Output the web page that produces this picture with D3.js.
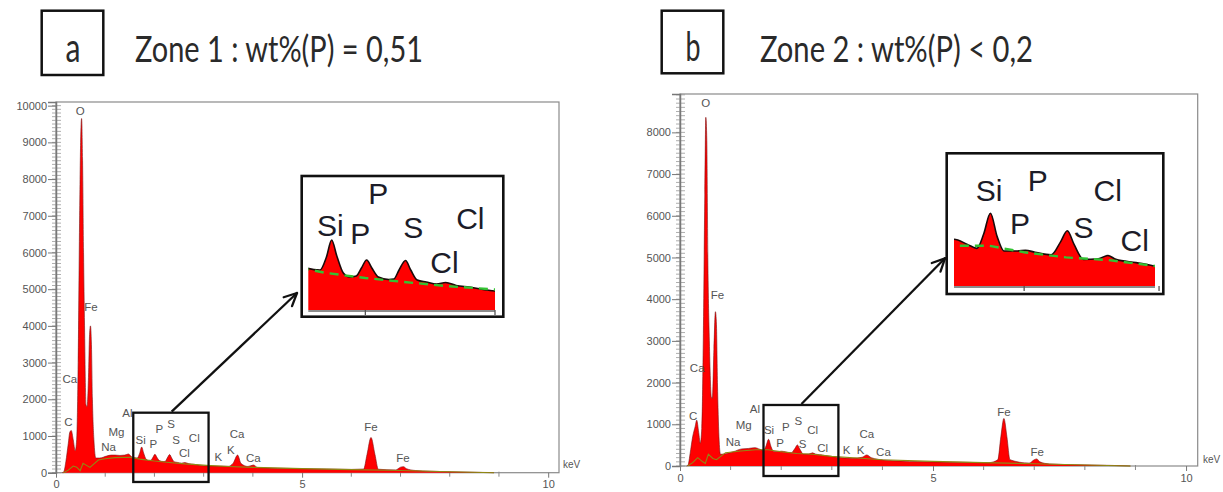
<!DOCTYPE html>
<html><head><meta charset="utf-8">
<script src="https://cdn.jsdelivr.net/npm/d3@7"></script>
<style>body{margin:0;background:#fff} svg{display:block}</style>
</head><body>
<svg id="c" width="1223" height="492"></svg>
<script>
// ---------------- DATA ----------------
// Zone 1 spectrum (keV, counts)
const keVA    = [0.13,0.16,0.20,0.25,0.28,0.31,0.35,0.39,0.42,0.45,0.48,0.50,0.52,0.54,0.56,0.58,0.61,0.63,0.66,0.68,0.70,0.72,0.74,0.77,0.81,0.89,1.03,1.12,1.20,1.30,1.40,1.47,1.55,1.65,1.70,1.74,1.78,1.83,1.88,1.93,1.97,2.01,2.05,2.10,2.18,2.22,2.26,2.31,2.35,2.40,2.47,2.55,2.62,2.70,2.80,3.00,3.30,3.50,3.60,3.69,3.76,3.90,4.01,4.10,4.50,5.00,5.50,6.00,6.25,6.32,6.40,6.48,6.55,6.90,7.00,7.06,7.12,7.30,7.60,8.00,8.50,8.80,8.90];
const countsA = [0,30,300,800,1100,1150,900,600,900,3000,7000,9000,9650,8500,6000,4000,1850,1800,2600,3700,4000,3500,2000,900,400,400,455,480,480,470,480,510,420,400,530,700,540,370,330,340,420,500,420,330,305,310,400,495,400,300,280,260,275,245,230,190,180,175,260,480,250,170,210,140,120,110,100,90,100,500,960,500,95,75,150,165,110,60,40,25,12,5,0];
const bgKeVA    = [0.15,0.25,0.35,0.42,0.49,0.55,0.62,0.69,0.86,1.00,1.20,1.50,1.70,2.00,2.30,2.62,3.06,3.50,4.00,5.00,6.00,7.00,8.00,8.90];
const bgCountsA = [0,70,180,150,55,255,200,145,345,380,410,420,370,320,280,240,200,170,145,110,85,60,25,0];

// Zone 2 spectrum (keV, counts)
const keVB    = [0.13,0.16,0.20,0.25,0.30,0.33,0.37,0.40,0.43,0.46,0.49,0.51,0.53,0.55,0.58,0.62,0.64,0.67,0.70,0.72,0.74,0.77,0.80,0.92,1.05,1.22,1.35,1.48,1.58,1.65,1.70,1.75,1.80,1.85,1.95,2.01,2.08,2.20,2.27,2.32,2.37,2.44,2.55,2.62,2.68,2.83,3.10,3.40,3.60,3.69,3.78,4.02,4.70,5.50,6.10,6.28,6.34,6.40,6.46,6.52,6.90,7.00,7.05,7.11,7.30,7.80,8.50,8.90];
const countsB = [0,25,300,700,950,1100,800,545,900,3000,6500,8360,7800,5000,3000,1650,1620,2800,3700,3400,2000,700,280,300,340,410,420,440,400,370,480,640,460,350,350,355,340,320,420,505,400,285,290,315,285,260,210,185,210,265,200,145,105,90,80,150,700,1140,700,150,70,150,170,100,50,30,15,0];
const bgKeVB    = [0.15,0.25,0.35,0.45,0.50,0.56,0.65,0.72,0.90,1.20,1.50,1.74,2.00,2.31,2.62,3.00,3.50,4.00,5.00,6.00,7.00,8.00,8.90];
const bgCountsB = [0,80,200,100,60,280,180,150,320,360,390,390,340,300,280,230,190,150,110,80,55,25,0];

// peak labels (element, keV, counts)
const labelTextA   = ["O","Fe","Ca","C","Mg","Na","Al","Si","P","P","S","S","Cl","Cl","K","K","Ca","Ca","Fe","Fe"];
const labelKeVA    = [0.49,0.71,0.28,0.25,1.23,1.07,1.45,1.72,1.98,2.10,2.34,2.44,2.81,2.61,3.30,3.55,3.68,4.01,6.40,7.05];
const labelCountsA = [9864,4523,2553,1390,1117,708,1618,880,780,1183,1319,891,950,529,420,619,1046,392,1253,392];
const labelTextB   = ["O","Fe","Ca","C","Al","Mg","Na","Si","P","S","Cl","P","S","Cl","K","K","Ca","Ca","Fe","Fe"];
const labelKeVB    = [0.51,0.74,0.34,0.26,1.48,1.26,1.05,1.76,2.09,2.34,2.62,1.98,2.42,2.82,3.29,3.57,3.69,4.02,6.40,7.06];
const labelCountsB = [8698,4101,2343,1199,1360,983,583,863,942,1086,863,544,528,424,384,384,767,343,1302,343];

// inset labels (element, keV, counts in inset scale)
const insetTextA   = ["Si","P","P","S","Cl","Cl"];
const insetKeVA    = [1.73,2.10,1.96,2.37,2.81,2.61];
const insetCountsA = [850,1173,767,827,917,483];
const insetTextB   = ["Si","P","P","S","Cl","Cl"];
const insetKeVB    = [1.74,2.10,1.97,2.44,2.62,2.82];
const insetCountsB = [818,895,562,536,818,434];

// axis ticks
const yTicksA = [0,1000,2000,3000,4000,5000,6000,7000,8000,9000,10000];
const yTicksB = [0,1000,2000,3000,4000,5000,6000,7000,8000];
const xTickLabels = [0,5,10];
const xMinorTicks = [1,2,3,4,6,7,8,9];
const insetTicks = [2,3];

// titles
const panelLetters = ["a","b"];
const panelTitles = ["Zone 1 : wt%(P) = 0,51","Zone 2 : wt%(P) < 0,2"];

// ---------------- DRAW ----------------
const svg = d3.select("#c");
const zip = (k,c) => k.map((d,i)=>({k:d,c:c[i]}));
const titleFont = "'Liberation Sans Narrow', 'Arial Narrow', Lato, sans-serif";

const panels = [
  {spec:zip(keVA,countsA), bg:zip(bgKeVA,bgCountsA), lt:labelTextA, lk:labelKeVA, lc:labelCountsA,
   it:insetTextA, ik:insetKeVA, ic:insetCountsA, yTicks:yTicksA,
   xd:[0,10.22], xr:[56,559], yd:[0,10100], yr:[472.7,102],
   box:[1.57,3.10,1635,-253],
   inset:{frame:[301.7,176,503.3,316.7], xd:[1.56,3.0], xr:[308.3,495], yd:[0,1300], yr:[310,180]},
   arrowFromKeV:2.35, arrowTo:[297,293],
   title:{box:[41.7,10.7,103.3,75], lx:73, ly:62, llen:15, tx:135, ty:62, tlen:288, letter:panelLetters[0], text:panelTitles[0]},
   keV:[563,468]},
  {spec:zip(keVB,countsB), bg:zip(bgKeVB,bgCountsB), lt:labelTextB, lk:labelKeVB, lc:labelCountsB,
   it:insetTextB, ik:insetKeVB, ic:insetCountsB, yTicks:yTicksB,
   xd:[0,10.23], xr:[680,1197.7], yd:[0,8920], yr:[466,94],
   box:[1.65,3.13,1463,-240],
   inset:{frame:[946.7,153.3,1163.3,294], xd:[1.48,2.97], xr:[954,1155], yd:[80,1050], yr:[286,160]},
   arrowFromKeV:2.40, arrowTo:[945,258.3],
   title:{box:[661.7,10.7,723.3,73.3], lx:693, ly:61, llen:15, tx:760, ty:62, tlen:273, letter:panelLetters[1], text:panelTitles[1]},
   keV:[1203,463]}
];

panels.forEach((p,pi)=>{
  const g = svg.append("g");
  const x = d3.scaleLinear().domain(p.xd).range(p.xr);
  const y = d3.scaleLinear().domain(p.yd).range(p.yr);

  // title
  const t = p.title;
  g.append("rect").attr("x",t.box[0]).attr("y",t.box[1]).attr("width",t.box[2]-t.box[0]).attr("height",t.box[3]-t.box[1])
    .attr("fill","none").attr("stroke","#111").attr("stroke-width",2.5);
  g.append("text").attr("x",t.lx).attr("y",t.ly).attr("text-anchor","middle")
    .attr("font-family",titleFont).attr("font-size",40).attr("fill","#2a2a2a")
    .attr("textLength",t.llen).attr("lengthAdjust","spacingAndGlyphs").text(t.letter);
  g.append("text").attr("x",t.tx).attr("y",t.ty)
    .attr("font-family",titleFont).attr("font-size",37).attr("fill","#2a2a2a")
    .attr("textLength",t.tlen).attr("lengthAdjust","spacingAndGlyphs").text(t.text);

  // frame
  g.append("rect").attr("x",x(p.xd[0])).attr("y",y(p.yd[1])).attr("width",x(p.xd[1])-x(p.xd[0])).attr("height",y(0)-y(p.yd[1]))
    .attr("fill","none").attr("stroke","#8a8a8a").attr("stroke-width",1.2);

  // minor y ticks
  const minor = d3.range(0,p.yd[1],100);
  g.append("g").selectAll("line").data(minor).join("line")
    .attr("x1",x(0)-4).attr("x2",x(0)+5).attr("y1",d=>y(d)).attr("y2",d=>y(d))
    .attr("stroke","#999").attr("stroke-width",0.8);
  // y axis
  const ya = g.append("g").attr("transform",`translate(${x(0)},0)`)
    .call(d3.axisLeft(y).tickValues(p.yTicks).tickSize(8).tickFormat(d3.format("d")));
  ya.select(".domain").attr("stroke","#777").attr("stroke-width",1.5);
  ya.selectAll(".tick line").attr("stroke","#777");
  ya.selectAll("text").attr("font-family","Arial, 'Liberation Sans', sans-serif").attr("font-size",11).attr("fill","#555").attr("x",-9);

  // x axis
  const xa = g.append("g").attr("transform",`translate(0,${y(0)})`)
    .call(d3.axisBottom(x).tickValues(xTickLabels).tickSize(5).tickFormat(d3.format("d")));
  xa.select(".domain").remove();
  xa.selectAll(".tick line").attr("stroke","#777");
  xa.selectAll("text").attr("font-family","Arial, 'Liberation Sans', sans-serif").attr("font-size",11).attr("fill","#555").attr("y",8);
  g.append("g").selectAll("line").data(xMinorTicks).join("line")
    .attr("x1",d=>x(d)).attr("x2",d=>x(d)).attr("y1",y(0)-1).attr("y2",y(0)+4)
    .attr("stroke","#888").attr("stroke-width",1);
  g.append("text").attr("x",p.keV[0]).attr("y",p.keV[1]).attr("font-family","Arial, 'Liberation Sans', sans-serif")
    .attr("font-size",10).attr("fill","#555").text("keV");

  // spectrum
  const area = d3.area().x(d=>x(d.k)).y0(y(0)).y1(d=>y(d.c)).curve(d3.curveMonotoneX);
  const line = d3.line().x(d=>x(d.k)).y(d=>y(d.c)).curve(d3.curveMonotoneX);
  g.append("path").datum(p.spec).attr("d",area).attr("fill","#ff0000");
  g.append("path").datum(p.spec).attr("d",line).attr("fill","none").attr("stroke","#7a1010").attr("stroke-width",0.8).attr("opacity",0.75);
  g.append("path").datum(p.bg).attr("d",d3.line().x(d=>x(d.k)).y(d=>y(d.c))).attr("fill","none").attr("stroke","#8f8a14").attr("stroke-width",1.1);

  // peak labels
  g.append("g").selectAll("text").data(p.lt).join("text")
    .attr("x",(d,i)=>x(p.lk[i])).attr("y",(d,i)=>y(p.lc[i])).attr("dy","0.35em").attr("text-anchor","middle")
    .attr("font-family","Arial, 'Liberation Sans', sans-serif").attr("font-size",11.5).attr("fill","#555").text(d=>d);

  // zoom box
  g.append("rect").attr("x",x(p.box[0])).attr("y",y(p.box[2])).attr("width",x(p.box[1])-x(p.box[0])).attr("height",y(p.box[3])-y(p.box[2]))
    .attr("fill","none").attr("stroke","#111").attr("stroke-width",2.3);

  // arrow
  const ax0 = x(p.arrowFromKeV), ay0 = y(p.box[2]) - 1;
  const [ax1, ay1] = p.arrowTo;
  const ang = Math.atan2(ay1-ay0, ax1-ax0);
  g.append("line").attr("x1",ax0).attr("y1",ay0).attr("x2",ax1).attr("y2",ay1).attr("stroke","#111").attr("stroke-width",2.3);
  [0.45,-0.45].forEach(a=>{
    g.append("line").attr("x1",ax1).attr("y1",ay1)
      .attr("x2",ax1-14*Math.cos(ang+a)).attr("y2",ay1-14*Math.sin(ang+a))
      .attr("stroke","#111").attr("stroke-width",2.3).attr("stroke-linecap","round");
  });

  // inset
  const I = p.inset;
  const ix = d3.scaleLinear().domain(I.xd).range(I.xr);
  const iy = d3.scaleLinear().domain(I.yd).range(I.yr);
  g.append("rect").attr("x",I.frame[0]).attr("y",I.frame[1]).attr("width",I.frame[2]-I.frame[0]).attr("height",I.frame[3]-I.frame[1])
    .attr("fill","#fff").attr("stroke","#111").attr("stroke-width",2.6);
  const cid = "clip"+pi;
  g.append("clipPath").attr("id",cid).append("rect")
    .attr("x",I.xr[0]).attr("y",I.frame[1]).attr("width",I.xr[1]-I.xr[0]).attr("height",I.yr[0]-I.frame[1]);
  const ig = g.append("g").attr("clip-path",`url(#${cid})`);
  const iarea = d3.area().x(d=>ix(d.k)).y0(I.yr[0]).y1(d=>iy(d.c)).curve(d3.curveMonotoneX);
  const iline = d3.line().x(d=>ix(d.k)).y(d=>iy(d.c)).curve(d3.curveMonotoneX);
  ig.append("path").datum(p.spec).attr("d",iarea).attr("fill","#ff0000");
  ig.append("path").datum(p.spec).attr("d",iline).attr("fill","none").attr("stroke","#1a0a0a").attr("stroke-width",1.6);
  ig.append("path").datum(p.bg).attr("d",d3.line().x(d=>ix(d.k)).y(d=>iy(d.c))).attr("fill","none")
    .attr("stroke","#33c233").attr("stroke-width",2.4).attr("stroke-dasharray","9,6");
  g.append("line").attr("x1",I.xr[0]).attr("x2",I.xr[1]).attr("y1",I.yr[0]+1).attr("y2",I.yr[0]+1).attr("stroke","#666").attr("stroke-width",1.5);
  g.append("g").selectAll("line").data(insetTicks).join("line")
    .attr("x1",d=>ix(d)).attr("x2",d=>ix(d)).attr("y1",I.yr[0]).attr("y2",I.yr[0]+5).attr("stroke","#555").attr("stroke-width",1.3);
  g.append("g").selectAll("text").data(p.it).join("text")
    .attr("x",(d,i)=>ix(p.ik[i])).attr("y",(d,i)=>iy(p.ic[i])).attr("dy","0.36em").attr("text-anchor","middle")
    .attr("font-family","Arial, 'Liberation Sans', sans-serif").attr("font-size",30).attr("fill","#1c1c28").text(d=>d);
});
</script>
</body></html>
